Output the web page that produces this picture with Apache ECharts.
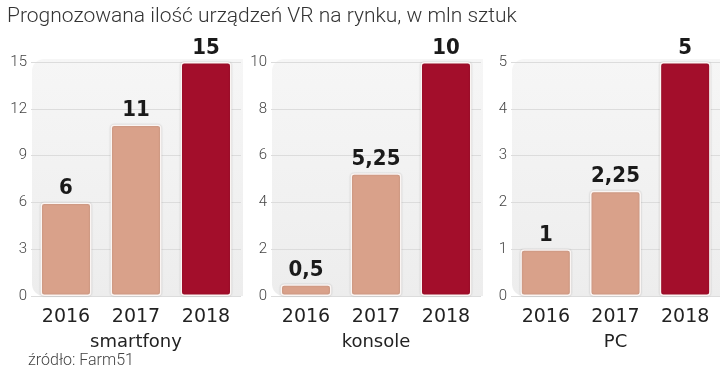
<!DOCTYPE html>
<html><head><meta charset="utf-8">
<script src="https://cdn.jsdelivr.net/npm/echarts@6/dist/echarts.min.js"></script>
<style>html,body{margin:0;padding:0;background:#fff}#c{width:720px;height:373px}</style>
</head><body><div id="c"></div>
<script>
const titleText = 'Prognozowana ilość urządzeń VR na rynku, w mln sztuk';
const sourceText = 'źródło: Farm51';
const categories = ['2016', '2017', '2018'];
const panelNames = ['smartfony', 'konsole', 'PC'];
const smartfony = [6, 11, 15];
const konsole = [0.5, 5.25, 10];
const pc = [1, 2.25, 5];
const axisMax = [15, 10, 5];
const axisInterval = [3, 2, 1];

const seriesValues = [smartfony, konsole, pc];
const lightColor = '#d9a18a';
const darkColor = '#a30e2b';
const gridLefts = [31, 271, 511];

const chart = echarts.init(document.getElementById('c'), null, {renderer: 'canvas'});

const grids = [], xAxes = [], yAxes = [], series = [];
for (let i = 0; i < 3; i++) {
  grids.push({left: gridLefts[i], width: 210, top: 62, bottom: 77, containLabel: false});
  xAxes.push({
    type: 'category', gridIndex: i, data: categories,
    axisLine: {show: false}, axisTick: {show: false},
    axisLabel: {margin: 12, fontSize: 19, color: '#222', fontFamily: 'DejaVu Sans'},
    name: panelNames[i], nameLocation: 'middle', nameGap: 37,
    nameTextStyle: {fontSize: 18, color: '#222', fontFamily: 'DejaVu Sans'}
  });
  yAxes.push({
    type: 'value', gridIndex: i, min: 0, max: axisMax[i], interval: axisInterval[i],
    axisLine: {show: false}, axisTick: {show: false},
    axisLabel: {margin: 4, fontSize: 15, color: '#444', fontFamily: 'Roboto', fontWeight: 300},
    splitLine: {lineStyle: {color: '#dcdcdc', width: 1}}
  });
  series.push({
    type: 'bar', xAxisIndex: i, yAxisIndex: i, barWidth: 51,
    data: seriesValues[i].map((v, j) => ({
      value: v,
      itemStyle: {color: j === 2 ? darkColor : lightColor}
    })),
    itemStyle: {borderColor: '#fbf5f3', borderWidth: 1.5, borderRadius: 3,
      shadowColor: 'rgba(0,0,0,0.18)', shadowBlur: 2},
    label: {
      show: true, position: 'top', distance: 3,
      fontSize: 22, fontWeight: 'bold', color: '#1a1a1a',
      fontFamily: '"DejaVu Sans Condensed", "DejaVu Sans", sans-serif',
      formatter: p => String(p.value).replace('.', ',')
    }
  });
}

chart.setOption({
  animation: false,
  backgroundColor: '#fff',
  title: {text: titleText, left: 2, top: 1,
    textStyle: {fontSize: 21, fontWeight: 300, color: '#333', fontFamily: 'Roboto'}},
  grid: grids, xAxis: xAxes, yAxis: yAxes, series: series
});

// panel backgrounds computed from the axes
const bgs = [];
for (let i = 0; i < 3; i++) {
  const topPt = chart.convertToPixel({xAxisIndex: i, yAxisIndex: i}, [0, axisMax[i]]);
  const zeroPt = chart.convertToPixel({xAxisIndex: i, yAxisIndex: i}, [0, 0]);
  const x0 = gridLefts[i] + 1;
  bgs.push({
    type: 'rect', z: -10, silent: true,
    shape: {x: x0, y: topPt[1] - 3, width: 211, height: zeroPt[1] - topPt[1] + 3, r: [12, 0, 0, 12]},
    style: {fill: new echarts.graphic.LinearGradient(0, 0, 0, 1, [
      {offset: 0, color: '#f6f6f6'}, {offset: 1, color: '#ededed'}])}
  });
}
chart.setOption({graphic: [{type: 'text', left: 28, top: 353,
    style: {text: sourceText, fontSize: 16, fill: '#444', fontFamily: 'Roboto', fontWeight: 300}}].concat(bgs)});
</script></body></html>
